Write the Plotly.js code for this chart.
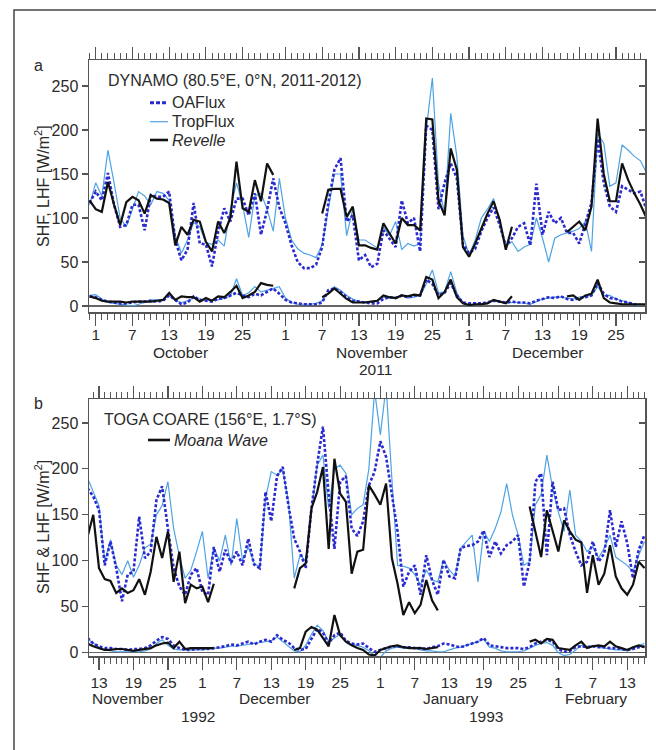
<!DOCTYPE html>
<html>
<head>
<meta charset="utf-8">
<script src="https://cdn.plot.ly/plotly-3.0.1.min.js"></script>
<style>html,body{margin:0;padding:0;background:#fff;}#chart{width:656px;height:750px;}</style>
</head>
<body>
<div id="chart"></div>
<script>
// ---------- Panel a: DYNAMO, daily, starting 2011-09-30 ----------
const startA = '2011-09-30';
const revelleLHF = [120,110,107,141,115,92,118,124,120,105,126,
  122,121,117,69,90,81,98,96,73,62,
  96,83,100,164,111,107,143,119,162,149,
  null,null,null,null,null,null,null,105,132,133,
  133,101,113,69,69,66,64,94,82,71,
  100,92,92,86,213,212,120,103,179,155,
  67,56,71,88,105,119,98,64,90,null,
  null,null,null,null,null,null,null,84,90,96,
  86,113,213,150,119,119,162,143,128,115,100];
const revelleSHF = [11,9,6,5,5,5,4,5,5,5,5,
  6,7,15,7,11,10,10,5,9,6,
  11,10,16,23,9,12,16,26,24,23,
  null,null,null,null,null,null,null,10,14,20,
  14,8,4,4,4,5,6,12,10,9,
  12,11,13,12,33,30,9,16,30,10,
  3,1,2,2,3,7,5,3,11,null,
  null,null,null,null,null,null,null,11,12,7,
  12,14,30,9,4,3,2,2,2,2,2];
const oafluxLHF_a = [117,130,120,151,115,90,92,115,115,86,126,
  124,124,130,75,52,64,117,71,70,45,
  84,111,96,122,122,103,128,81,109,145,
  112,94,69,50,43,43,47,67,117,155,
  168,96,103,52,58,44,48,86,77,67,
  120,94,100,62,205,200,110,140,162,145,
  70,60,65,85,100,112,92,68,77,90,
  94,69,139,81,107,94,100,83,83,71,
  94,117,190,140,113,107,136,132,128,130,109];
const oafluxSHF_a = [11,10,7,5,4,3,3,4,5,5,6,
  5,6,12,7,2,4,11,7,6,5,
  8,9,12,15,12,10,14,12,16,20,
  14,7,4,3,2,2,2,4,18,20,
  16,10,6,5,4,3,3,8,10,9,
  12,10,12,12,30,25,12,15,26,12,
  4,3,3,3,4,6,5,4,5,4,
  4,3,6,8,10,9,11,8,7,9,
  10,12,26,14,9,8,5,4,2,1,1];
const tropfluxLHF_a = [115,140,125,177,140,100,90,110,130,125,115,
  130,128,120,80,60,75,95,90,72,70,
  75,68,110,140,115,78,125,128,110,85,
  145,100,75,65,60,58,55,70,110,150,
  150,80,110,75,75,70,66,90,80,96,
  64,71,68,71,200,259,139,105,219,170,
  80,58,75,100,110,122,95,68,73,62,
  67,70,100,77,50,77,81,83,85,88,
  96,62,196,185,136,140,183,177,170,165,151];
const tropfluxSHF_a = [12,13,8,4,3,2,1,0,2,4,7,
  7,7,13,6,4,6,9,8,6,7,
  7,9,11,31,12,15,22,16,18,20,
  22,9,4,2,2,2,3,6,15,22,
  18,12,8,5,5,5,6,10,9,10,
  12,9,10,12,25,41,15,16,39,15,
  3,0,2,3,4,6,5,3,4,4,
  3,2,5,8,9,10,10,9,8,10,
  11,12,22,12,12,8,6,4,2,0,1];
const tickDatesA = ['2011-10-01','2011-10-07','2011-10-13','2011-10-19','2011-10-25',
  '2011-11-01','2011-11-07','2011-11-13','2011-11-19','2011-11-25',
  '2011-12-01','2011-12-07','2011-12-13','2011-12-19','2011-12-25'];
const tickTextA = ['1','7','13','19','25','1','7','13','19','25','1','7','13','19','25'];

// ---------- Panel b: TOGA COARE, daily, starting 1992-11-11 ----------
const startB = '1992-11-11';
const moanaLHF = [126,150,92,80,78,65,70,65,68,80,63,88,
  126,103,132,77,110,54,74,70,72,55,
  75,null,null,null,null,null,null,null,null,null,
  null,null,null,null,70,92,97,157,175,202,
  113,211,173,164,86,110,112,182,172,161,
  184,103,75,41,55,43,52,79,57,46,
  null,null,null,null,null,null,null,null,null,null,
  null,null,null,null,null,159,130,104,155,132,
  110,144,132,123,120,65,106,74,86,117,
  83,70,63,74,99,92];
const moanaSHF = [10,7,5,3,3,4,4,3,2,3,4,5,
  8,10,11,5,12,4,5,5,5,5,
  5,null,null,null,null,null,null,null,null,null,
  null,null,null,null,3,5,23,28,25,16,
  7,41,19,12,8,5,3,-2,-3,3,
  5,7,8,6,5,5,5,4,5,6,
  null,null,null,null,null,null,null,null,null,null,
  null,null,null,null,null,12,14,10,15,14,
  5,4,3,8,12,5,7,8,7,12,
  7,5,3,6,8,6];
const oafluxLHF_b = [179,170,155,95,121,92,56,85,88,148,103,110,
  166,181,135,92,72,63,85,92,66,63,
  115,88,112,98,110,95,124,96,92,175,
  143,192,202,160,124,110,92,157,205,246,
  172,113,186,192,135,127,143,182,197,230,
  213,175,132,72,88,95,63,106,79,63,
  101,83,81,114,116,117,121,133,104,121,
  108,117,121,128,72,99,186,195,106,186,
  155,157,128,110,95,99,121,99,108,155,
  115,143,119,81,112,128];
const oafluxSHF_b = [16,10,7,5,5,4,4,3,4,4,5,8,
  13,17,15,8,5,3,3,4,4,4,
  5,6,7,9,8,10,12,9,12,14,
  12,19,14,11,5,3,4,15,26,22,
  10,19,22,13,10,9,10,5,1,3,
  5,7,7,6,6,5,5,4,6,7,
  10,9,7,6,8,10,12,16,8,7,
  6,5,5,5,4,6,10,12,14,12,
  4,1,2,6,7,6,7,6,6,5,
  5,4,3,4,6,7];
const tropfluxLHF_b = [190,175,160,99,123,95,85,100,82,95,114,118,
  150,160,186,135,105,81,90,110,132,81,
  114,100,128,95,146,100,115,98,92,168,
  197,193,199,164,81,106,100,153,204,215,
  157,200,204,195,150,157,161,200,285,237,
  290,190,95,94,92,85,74,90,79,77,
  101,90,83,114,121,128,77,132,121,135,
  153,184,150,128,95,99,161,172,215,179,
  153,132,177,128,121,110,115,103,114,128,
  104,99,95,88,106,121];
const tropfluxSHF_b = [15,10,6,3,2,1,1,1,1,1,2,4,
  10,14,8,4,3,3,3,3,3,4,
  5,5,6,7,7,8,9,10,11,12,
  13,17,12,8,2,1,8,20,30,24,
  12,16,20,12,9,8,6,2,-3,-5,
  2,5,6,5,6,5,3,2,2,1,
  1,3,5,6,8,10,12,15,6,5,
  2,1,1,1,2,5,8,10,11,8,
  0,-3,-2,3,8,6,8,6,5,4,
  3,3,2,5,8,10];
const tickDatesB = ['1992-11-13','1992-11-19','1992-11-25','1992-12-01','1992-12-07',
  '1992-12-13','1992-12-19','1992-12-25','1993-01-01','1993-01-07','1993-01-13',
  '1993-01-19','1993-01-25','1993-02-01','1993-02-07','1993-02-13'];
const tickTextB = ['13','19','25','1','7','13','19','25','1','7','13','19','25','1','7','13'];

const yTicks = [0,50,100,150,200,250];
const seriesNames = ['OAFlux','TropFlux','Revelle','Moana Wave'];

// ---------- helpers ----------
const DAY = 86400000;
function dailyDates(start, n){
  const t0 = Date.parse(start + 'T00:00:00Z');
  const out = [];
  for (let i = 0; i < n; i++) out.push(new Date(t0 + i*DAY).toISOString().slice(0,10));
  return out;
}
const xa = dailyDates(startA, revelleLHF.length);
const xb = dailyDates(startB, moanaLHF.length);

const C_OA = '#2a2ad0', C_TF = '#4ea3e4', C_BK = '#111111';
const styleOA = {color: C_OA, width: 2.6, dash: '3px,2px'};
const styleTF = {color: C_TF, width: 1.2};
const styleBK = {color: C_BK, width: 2.2};

function tr(x, y, line, xax, yax){
  return {type:'scatter', mode:'lines', x:x, y:y, line:line, xaxis:xax, yaxis:yax,
          connectgaps:false, showlegend:false, hoverinfo:'skip'};
}

const data = [
  tr(xa, tropfluxLHF_a, styleTF, 'x', 'y'),
  tr(xa, tropfluxSHF_a, styleTF, 'x', 'y'),
  tr(xa, oafluxLHF_a, styleOA, 'x', 'y'),
  tr(xa, oafluxSHF_a, styleOA, 'x', 'y'),
  tr(xa, revelleLHF, styleBK, 'x', 'y'),
  tr(xa, revelleSHF, styleBK, 'x', 'y'),
  tr(xb, tropfluxLHF_b, styleTF, 'x2', 'y2'),
  tr(xb, tropfluxSHF_b, styleTF, 'x2', 'y2'),
  tr(xb, oafluxLHF_b, styleOA, 'x2', 'y2'),
  tr(xb, oafluxSHF_b, styleOA, 'x2', 'y2'),
  tr(xb, moanaLHF, styleBK, 'x2', 'y2'),
  tr(xb, moanaSHF, styleBK, 'x2', 'y2'),
  {type:'scatter', mode:'lines', x:[xa[0]], y:[null], xaxis:'x', yaxis:'y3', showlegend:false, hoverinfo:'skip'},
  {type:'scatter', mode:'lines', x:[xb[0]], y:[null], xaxis:'x2', yaxis:'y4', showlegend:false, hoverinfo:'skip'}
];

const FONT = 'Liberation Sans, Arial, sans-serif';
const TXT = '#2a2a2a';
const AX = '#555555';

function xaxisDef(range, tickvals, ticktext, anchor, standoff){
  return {
    type:'date', range:range, anchor:anchor,
    tickmode:'array', tickvals:tickvals, ticktext:ticktext,
    ticks:'outside', ticklen:12, tickwidth:1.2, tickcolor:AX,
    minor:{tickmode:'linear', dtick:DAY, tick0:tickvals[0], ticks:'outside', ticklen:6, tickwidth:1, tickcolor:AX, showgrid:false},
    showline:true, linecolor:AX, linewidth:1.5, mirror:'ticks',
    showgrid:false, zeroline:false, ticklabelstandoff:standoff,
    tickfont:{family:FONT, size:15.5, color:TXT}, fixedrange:true
  };
}
function yaxisDef(range, domain, anchor){
  return {
    range:range, domain:domain, anchor:anchor,
    tickvals:yTicks, ticks:'outside', ticklen:6, tickwidth:1.2, tickcolor:AX,
    showline:true, linecolor:AX, linewidth:1.5, mirror:true,
    showgrid:false, zeroline:true, zerolinecolor:'#666666', zerolinewidth:1.5,
    tickfont:{family:FONT, size:16, color:TXT}, fixedrange:true
  };
}
function yRight(range, over, anchor){
  return {range:range, overlaying:over, side:'right', anchor:anchor,
    tickvals:yTicks, ticks:'inside', ticklen:6, tickwidth:1.2, tickcolor:AX,
    showticklabels:false, showline:false, showgrid:false, zeroline:false, fixedrange:true};
}

const rangeYA = [-6.8, 279.5];
const rangeYB = [-3.6, 276];

function px(x){ return (x-89)/556; }
function py(y){ return (656-y)/596; }

function ann(text, x, y, opts){
  return Object.assign({text:text, xref:'paper', yref:'paper', x:px(x), y:py(y),
    showarrow:false, xanchor:'center', yanchor:'middle',
    font:{family:FONT, size:16, color:TXT}}, opts||{});
}
const MF = {family:FONT, size:15.5, color:TXT};
function legLine(x0, x1, y, line){
  return {type:'line', xref:'paper', yref:'paper', x0:px(x0), x1:px(x1), y0:py(y), y1:py(y), line:line};
}

const layout = {
  width:656, height:750,
  margin:{l:89, r:11, t:60, b:94},
  paper_bgcolor:'#ffffff', plot_bgcolor:'#ffffff',
  showlegend:false,
  font:{family:FONT, size:16, color:TXT},
  xaxis: xaxisDef(['2011-09-29 21:43','2011-12-29 17:45'], tickDatesA, tickTextA, 'y', -4),
  yaxis: yaxisDef(rangeYA, [py(312), 1], 'x'),
  xaxis2: xaxisDef(['1992-11-11 06:11','1993-02-16 02:10'], tickDatesB, tickTextB, 'y2', 0),
  yaxis2: yaxisDef(rangeYB, [0, py(399)], 'x2'),
  yaxis3: yRight(rangeYA, 'y', 'x'),
  yaxis4: yRight(rangeYB, 'y2', 'x2'),
  shapes:[
    {type:'rect', xref:'paper', yref:'paper', x0:px(14), x1:1.2, y0:-0.3, y1:py(10),
     line:{color:'#444444', width:1.5}, fillcolor:'rgba(0,0,0,0)'},
    legLine(150, 168, 102.7, {color:C_OA, width:3, dash:'4px,2px'}),
    legLine(150, 168, 121.7, {color:C_TF, width:1.2}),
    legLine(150, 168, 140, {color:C_BK, width:2.6}),
    legLine(148, 170, 440, {color:C_BK, width:2.6})
  ],
  annotations:[
    ann('a', 38, 65),
    ann('b', 38, 403),
    ann('SHF, LHF [W/m<sup>2</sup>]', 42, 186, {textangle:-90}),
    ann('SHF &amp; LHF [W/m<sup>2</sup>]', 42, 527, {textangle:-90}),
    ann('DYNAMO (80.5°E, 0°N, 2011-2012)', 106, 81, {xanchor:'left'}),
    ann(seriesNames[0], 170, 102.7, {xanchor:'left'}),
    ann(seriesNames[1], 170, 121.7, {xanchor:'left'}),
    ann('<i>' + seriesNames[2] + '</i>', 170, 140, {xanchor:'left'}),
    ann('TOGA COARE (156°E, 1.7°S)', 101.7, 419, {xanchor:'left'}),
    ann('<i>' + seriesNames[3] + '</i>', 172, 440, {xanchor:'left'}),
    ann('October', 180.5, 352, {font:MF}),
    ann('November', 372, 352, {font:MF}),
    ann('December', 548, 352, {font:MF}),
    ann('2011', 375, 369.5, {font:MF}),
    ann('November', 127.5, 698, {font:MF}),
    ann('December', 275, 698, {font:MF}),
    ann('1992', 198, 716, {font:MF}),
    ann('January', 450.5, 698, {font:MF}),
    ann('February', 595.5, 698, {font:MF}),
    ann('1993', 485.5, 716, {font:MF})
  ]
};

Plotly.newPlot('chart', data, layout, {staticPlot:true, displayModeBar:false});
</script>
</body>
</html>
